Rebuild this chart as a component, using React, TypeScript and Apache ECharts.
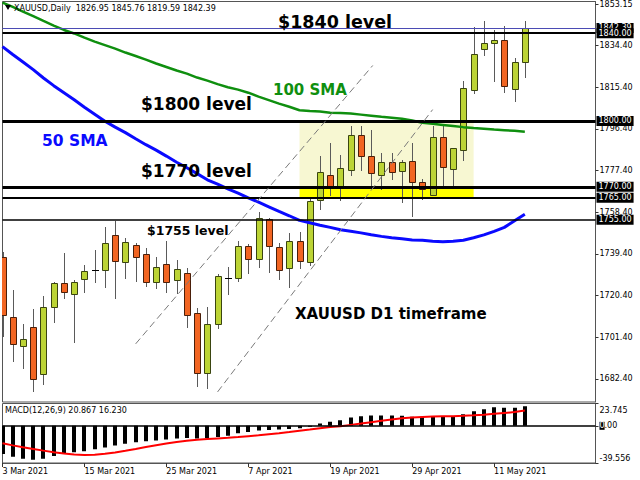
import React, { useEffect, useRef } from "react";
import * as echarts from "echarts";

// ---------- data ----------
const dates = [
  "3 Mar 2021", "4 Mar 2021", "5 Mar 2021", "8 Mar 2021", "9 Mar 2021", "10 Mar 2021", "11 Mar 2021",
  "12 Mar 2021", "15 Mar 2021", "16 Mar 2021", "17 Mar 2021", "18 Mar 2021", "19 Mar 2021", "22 Mar 2021",
  "23 Mar 2021", "24 Mar 2021", "25 Mar 2021", "26 Mar 2021", "29 Mar 2021", "30 Mar 2021", "31 Mar 2021",
  "1 Apr 2021", "5 Apr 2021", "6 Apr 2021", "7 Apr 2021", "8 Apr 2021", "9 Apr 2021", "12 Apr 2021",
  "13 Apr 2021", "14 Apr 2021", "15 Apr 2021", "16 Apr 2021", "19 Apr 2021", "20 Apr 2021", "21 Apr 2021",
  "22 Apr 2021", "23 Apr 2021", "26 Apr 2021", "27 Apr 2021", "28 Apr 2021", "29 Apr 2021", "30 Apr 2021",
  "3 May 2021", "4 May 2021", "5 May 2021", "6 May 2021", "7 May 2021", "10 May 2021", "11 May 2021",
  "12 May 2021", "13 May 2021", "14 May 2021",
];

const open = [
  1738.1, 1710.6, 1697.6, 1706.0, 1684.5, 1715.1, 1726.1, 1721.2, 1727.9, 1731.6,
  1732.1, 1748.1, 1735.7, 1743.6, 1739.5, 1726.8, 1734.7, 1727.6, 1730.9, 1712.4,
  1685.0, 1707.4, 1728.5, 1728.4, 1743.2, 1737.2, 1755.3, 1742.5, 1732.9, 1745.4,
  1735.9, 1764.1, 1775.5, 1770.2, 1777.8, 1793.8, 1784.2, 1775.5, 1781.3, 1777.0,
  1781.9, 1772.4, 1766.4, 1792.5, 1778.1, 1786.6, 1814.3, 1832.9, 1835.6, 1836.7,
  1814.6, 1826.95,
];
const high = [
  1740.4, 1723.0, 1707.5, 1714.2, 1720.4, 1726.8, 1739.8, 1727.6, 1734.4, 1741.3,
  1751.5, 1754.6, 1746.6, 1744.3, 1742.0, 1738.2, 1745.4, 1736.7, 1732.9, 1714.7,
  1715.4, 1730.2, 1733.4, 1745.4, 1744.0, 1758.5, 1755.7, 1744.3, 1748.9, 1749.6,
  1764.9, 1783.9, 1790.0, 1784.6, 1797.9, 1797.9, 1796.0, 1785.4, 1785.4, 1782.4,
  1790.0, 1773.5, 1797.6, 1797.6, 1787.9, 1818.1, 1842.9, 1845.5, 1841.7, 1843.5,
  1828.7, 1845.76,
];
const low = [
  1701.6, 1690.2, 1687.0, 1676.6, 1679.7, 1707.8, 1718.9, 1699.0, 1721.5, 1726.1,
  1723.8, 1718.9, 1728.0, 1726.8, 1724.3, 1723.3, 1721.5, 1721.2, 1705.5, 1678.6,
  1677.7, 1705.2, 1720.7, 1726.8, 1730.3, 1732.9, 1730.9, 1727.6, 1723.8, 1732.5,
  1734.0, 1759.5, 1765.9, 1763.3, 1774.7, 1777.0, 1770.2, 1768.7, 1773.2, 1762.6,
  1756.2, 1763.8, 1765.6, 1769.9, 1770.2, 1781.6, 1812.5, 1829.8, 1817.6, 1812.8,
  1808.5, 1819.59,
];
const close = [
  1711.6, 1698.4, 1700.5, 1682.4, 1715.4, 1726.1, 1722.2, 1726.8, 1731.8, 1731.9,
  1744.3, 1736.1, 1744.8, 1738.2, 1726.8, 1733.4, 1726.8, 1732.6, 1711.6, 1685.0,
  1707.5, 1729.4, 1728.6, 1742.8, 1737.2, 1756.0, 1743.1, 1732.1, 1745.1, 1736.3,
  1763.3, 1776.6, 1770.2, 1778.6, 1793.8, 1783.9, 1776.3, 1781.3, 1776.6, 1781.3,
  1772.0, 1769.0, 1792.7, 1779.0, 1787.7, 1815.1, 1830.7, 1835.6, 1836.7, 1815.8,
  1826.8, 1842.39,
];

const sma50 = [
  1833.9, 1830.3, 1826.9, 1823.4, 1819.6, 1816.1, 1812.9, 1809.7, 1806.3, 1803.1,
  1799.9, 1797.2, 1794.7, 1791.9, 1789.2, 1786.7, 1784.0, 1781.2, 1778.7, 1776.0,
  1773.2, 1771.2, 1769.1, 1767.1, 1765.0, 1763.0, 1760.9, 1758.8, 1756.8, 1754.7,
  1753.6, 1752.5, 1751.5, 1750.4, 1749.7, 1749.0, 1748.1, 1747.4, 1746.8, 1746.3,
  1745.8, 1745.6, 1745.2, 1744.9, 1745.2, 1745.6, 1746.8, 1748.1, 1749.7, 1751.5,
  1754.5, 1757.5,
];
const sma100 = [
  1854.0, 1852.0, 1849.9, 1847.8, 1845.6, 1843.5, 1841.5, 1839.9, 1838.0, 1836.2,
  1834.6, 1833.0, 1831.2, 1829.6, 1828.0, 1826.2, 1824.6, 1823.0, 1821.6, 1819.8,
  1818.4, 1816.8, 1815.4, 1814.3, 1812.9, 1811.1, 1809.5, 1807.9, 1806.5, 1804.9,
  1804.5, 1804.3, 1803.8, 1803.6, 1803.4, 1802.9, 1802.4, 1801.9, 1801.5, 1801.0,
  1800.2, 1799.2, 1798.7, 1798.2, 1797.7, 1797.2, 1796.8, 1796.5, 1796.1, 1795.8,
  1795.5, 1795.1,
];

const macdMain = [
  -30, -33, -35, -36, -35, -32, -30, -28, -27, -25,
  -23, -21, -19, -17.5, -16.5, -15.5, -14.5, -13.5, -13, -13.5,
  -13, -12, -10.5, -8, -6.5, -5, -4.5, -4, -3.5, -2.5,
  -1, 2.5, 4.2, 6.0, 8.9, 10.3, 11.0, 11.0, 11.0, 10.6,
  9.6, 9.6, 9.6, 9.6, 10.3, 12.4, 15.6, 17.7, 19.8, 19.1,
  19.1, 20.867,
];
const macdSignal = [
  -18.6, -20.8, -22.8, -24.6, -26.4, -28.0, -29.5, -30.5, -31.0, -30.8,
  -29.8, -28.3, -26.5, -24.6, -22.6, -20.6, -18.8, -17.2, -15.9, -14.8,
  -14.0, -13.4, -12.8, -12.0, -11.0, -10.0, -8.9, -7.8, -6.6, -5.3,
  -4.0, -2.6, -1.3, -0.4, 1.0, 2.4, 3.9, 5.3, 6.7, 8.0,
  8.8, 9.4, 9.9, 10.1, 10.3, 10.6, 11.2, 11.9, 12.8, 13.7,
  14.6, 16.23,
];

const priceTicks = [1682.4, 1701.4, 1720.4, 1739.4, 1758.4, 1777.4, 1796.4, 1815.4, 1834.4, 1853.15];
const macdTicks = [23.745, 0, -39.556];
const dateTickBars = [0, 8, 16, 24, 32, 40, 48];
const levels = [1840, 1800, 1770, 1765, 1755];
const currentPrice = 1842.39;
const headerSymbol = "XAUUSD,Daily";
const headerOHLC = [1826.95, 1845.76, 1819.59, 1842.39];
const macdHeader = [20.867, 16.23];
const zoneBars = [29, 46];
const rangeZone = [1800, 1770];
const supportZone = [1770, 1765];
const channelA = [[13.0, 1698.4], [36.15, 1825.3]];
const channelB = [[21.0, 1676.5], [42.0, 1805.2]];

// ---------- chart ----------
const FONT = "DejaVu Sans";
const levelWidths = [2, 3, 3, 2.2, 1.6];

function buildOption() {
  const candleData = open.map((o, i) => [i, o, close[i], low[i], high[i]]);
  const boxLabel = {
    show: true,
    position: "end",
    distance: 1,
    formatter: (p: any) => Number(p.value).toFixed(2),
    color: "#fff",
    backgroundColor: "#000",
    padding: [1, 2, 1, 2],
    fontSize: 8,
    fontFamily: FONT,
  };
  const bigText = (text: string, x: number, y: number, size: number, fill = "#000") => ({
    type: "text", z: 10, x, y,
    style: { text, fill, fontSize: size, fontWeight: "bold", fontFamily: FONT, align: "left", verticalAlign: "middle" },
  });
  return {
    animation: false,
    backgroundColor: "#fff",
    textStyle: { fontFamily: FONT },
    grid: [
      { left: 2.5, top: 1.5, width: 593, height: 400.5, show: true, borderColor: "#555", borderWidth: 1, containLabel: false, outerBoundsMode: "none" },
      { left: 2.5, top: 403.5, width: 593, height: 59.5, show: true, borderColor: "#555", borderWidth: 1, containLabel: false, outerBoundsMode: "none" },
    ],
    xAxis: [
      { type: "value", gridIndex: 0, min: 0, max: 57.9, show: false, axisLine: { onZero: false } },
      {
        type: "value", gridIndex: 1, min: 0, max: 57.9,
        splitLine: { show: false },
        axisLine: { show: true, onZero: false, lineStyle: { color: "#555" } },
        axisTick: { show: true, customValues: dateTickBars, length: 4, lineStyle: { color: "#333" } },
        axisLabel: {
          customValues: dateTickBars,
          formatter: (v: number) => dates[Math.round(v)] ?? "",
          align: "left", margin: 4, fontSize: 8, color: "#000", fontFamily: FONT,
        },
      },
    ],
    yAxis: [
      {
        type: "value", gridIndex: 0, position: "right", min: 1671.9, max: 1854.47,
        splitLine: { show: false },
        axisLine: { show: true, onZero: false, lineStyle: { color: "#555" } },
        axisTick: { show: true, customValues: priceTicks, length: 3, lineStyle: { color: "#333" } },
        axisLabel: {
          customValues: priceTicks,
          formatter: (v: number) => v.toFixed(2),
          margin: 4, fontSize: 8, color: "#000", fontFamily: FONT,
        },
      },
      {
        type: "value", gridIndex: 1, position: "right", min: -39.556, max: 23.745,
        splitLine: { show: false },
        axisLine: { show: true, onZero: false, lineStyle: { color: "#555" } },
        axisTick: { show: true, customValues: macdTicks, length: 3, lineStyle: { color: "#333" } },
        axisLabel: {
          customValues: macdTicks,
          formatter: (v: number) =>
            v > 1 ? `{t|${v.toFixed(3)}}` : v < -1 ? `{b|${v.toFixed(3)}}` : "{z|0}{n|.00}",
          margin: 4, fontSize: 8, color: "#000", fontFamily: FONT,
          rich: {
            t: { fontSize: 8, fontFamily: FONT, color: "#000", padding: [13, 0, 0, 0] },
            b: { fontSize: 8, fontFamily: FONT, color: "#000", padding: [0, 0, 10, 0] },
            z: { fontSize: 8, fontFamily: FONT, color: "#fff", backgroundColor: "#000" },
            n: { fontSize: 8, fontFamily: FONT, color: "#000" },
          },
        },
      },
    ],
    series: [
      {
        type: "line", xAxisIndex: 0, yAxisIndex: 0, z: 1, silent: true,
        data: [[0, currentPrice]], showSymbol: false, lineStyle: { width: 0, opacity: 0 },
        markArea: {
          silent: true,
          data: [
            [{ coord: [zoneBars[0], rangeZone[0]], itemStyle: { color: "#f7f7d2" } }, { coord: [zoneBars[1], rangeZone[1]] }],
            [{ coord: [zoneBars[0], supportZone[0]], itemStyle: { color: "#ffff00" } }, { coord: [zoneBars[1], supportZone[1]] }],
          ],
        },
      },
      {
        type: "custom", xAxisIndex: 0, yAxisIndex: 0, z: 2, clip: true, silent: true,
        data: candleData,
        encode: { x: 0, y: [1, 2, 3, 4] },
        renderItem: (_p: any, api: any) => {
          const i = api.value(0), o = api.value(1), c = api.value(2), l = api.value(3), h = api.value(4);
          const pO = api.coord([i, o]), pC = api.coord([i, c]), pH = api.coord([i, h]), pL = api.coord([i, l]);
          const cx = Math.round(pO[0]);
          const top = Math.round(Math.min(pO[1], pC[1]));
          const bot = Math.round(Math.max(pO[1], pC[1]));
          const up = c >= o;
          const children: any[] = [
            { type: "line", shape: { x1: cx + 0.5, y1: Math.round(pH[1]), x2: cx + 0.5, y2: Math.round(pL[1]) }, style: { stroke: "#5a5a5a", lineWidth: 1 } },
          ];
          if (bot - top < 2) {
            children.push({ type: "line", shape: { x1: cx - 3, y1: top + 0.5, x2: cx + 4, y2: top + 0.5 }, style: { stroke: "#000", lineWidth: 1 } });
          } else {
            children.push({
              type: "rect",
              shape: { x: cx - 3 + 0.5, y: top + 0.5, width: 6, height: bot - top },
              style: { fill: up ? "#bcd435" : "#f26522", stroke: up ? "#3a4510" : "#4a1f0a", lineWidth: 1 },
            });
          }
          return { type: "group", children };
        },
      },
      {
        type: "line", xAxisIndex: 0, yAxisIndex: 0, z: 3, silent: true, clip: true,
        data: sma100.map((v, i) => [i, v]), showSymbol: false, smooth: false,
        lineStyle: { color: "#0f8f0f", width: 2.5 },
      },
      {
        type: "line", xAxisIndex: 0, yAxisIndex: 0, z: 3, silent: true, clip: true,
        data: sma50.map((v, i) => [i, v]), showSymbol: false,
        lineStyle: { color: "#0a0aff", width: 3 },
      },
      {
        type: "line", xAxisIndex: 0, yAxisIndex: 0, z: 4, silent: true,
        data: [[0, currentPrice]], showSymbol: false, lineStyle: { width: 0, opacity: 0 },
        markLine: {
          silent: true, symbol: ["none", "none"],
          lineStyle: { color: "#4b4bb4", width: 1, type: "solid" },
          label: boxLabel,
          data: [{ yAxis: currentPrice }],
        },
      },
      {
        type: "line", xAxisIndex: 0, yAxisIndex: 0, z: 5, silent: true,
        data: [[0, currentPrice]], showSymbol: false, lineStyle: { width: 0, opacity: 0 },
        markLine: {
          silent: true, symbol: ["none", "none"],
          lineStyle: { color: "#000", type: "solid" },
          label: boxLabel,
          data: levels.map((v, k) => ({ yAxis: v, lineStyle: { color: "#000", width: levelWidths[k], type: "solid" } })),
        },
      },
      {
        type: "line", xAxisIndex: 0, yAxisIndex: 0, z: 5, silent: true,
        data: [[0, currentPrice]], showSymbol: false, lineStyle: { width: 0, opacity: 0 },
        markLine: {
          silent: true, symbol: ["none", "none"],
          lineStyle: { color: "#7a7a7a", width: 1, type: [7, 4] },
          label: { show: false },
          data: [
            [{ coord: channelA[0] }, { coord: channelA[1] }],
            [{ coord: channelB[0] }, { coord: channelB[1] }],
          ],
        },
      },
      {
        type: "custom", xAxisIndex: 1, yAxisIndex: 1, z: 2, clip: true, silent: true,
        data: macdMain.map((v, i) => [i, v]),
        encode: { x: 0, y: 1 },
        renderItem: (_p: any, api: any) => {
          const i = api.value(0), v = api.value(1);
          const p0 = api.coord([i, 0]), p1 = api.coord([i, v]);
          const cx = Math.round(p0[0]);
          return {
            type: "rect",
            shape: { x: cx - 2, y: Math.min(p0[1], p1[1]), width: 4, height: Math.abs(p1[1] - p0[1]) },
            style: { fill: "#000" },
          };
        },
      },
      {
        type: "line", xAxisIndex: 1, yAxisIndex: 1, z: 3, silent: true, clip: true,
        data: macdSignal.map((v, i) => [i, v]), showSymbol: false,
        lineStyle: { color: "#ff0000", width: 2 },
        markLine: {
          silent: true, symbol: ["none", "none"],
          lineStyle: { color: "#000", width: 1.5, type: "solid" },
          label: { show: false },
          data: [{ yAxis: 0 }],
        },
      },
    ],
    graphic: [
      { type: "polygon", z: 10, shape: { points: [[5, 5], [11, 5], [8, 10]] }, style: { fill: "#000" } },
      {
        type: "text", z: 10, x: 14, y: 8,
        style: { text: `${headerSymbol}  ${headerOHLC.map((v) => v.toFixed(2)).join(" ")}`, fill: "#000", fontSize: 8, fontFamily: FONT, align: "left", verticalAlign: "middle" },
      },
      {
        type: "text", z: 10, x: 5, y: 410,
        style: { text: `MACD(12,26,9) ${macdHeader.map((v) => v.toFixed(3)).join(" ")}`, fill: "#000", fontSize: 8, fontFamily: FONT, align: "left", verticalAlign: "middle" },
      },
      bigText("$1840 level", 278, 22, 17.5),
      bigText("$1800 level", 141, 104, 17),
      bigText("$1770 level", 141, 171, 17),
      bigText("$1755 level", 147, 230, 12.5),
      bigText("100 SMA", 273, 90, 15, "#0f8f0f"),
      bigText("50 SMA", 42, 141, 15.5, "#0a0aff"),
      bigText("XAUUSD D1 timeframe", 295, 314, 15),
    ],
  };
}

export default function App() {
  const ref = useRef<HTMLDivElement>(null);
  useEffect(() => {
    document.body.style.margin = "0";
    const chart = echarts.init(ref.current as HTMLDivElement, undefined, { renderer: "svg" });
    chart.setOption(buildOption() as any);
    return () => chart.dispose();
  }, []);
  return <div ref={ref} style={{ width: 640, height: 480 }} />;
}
